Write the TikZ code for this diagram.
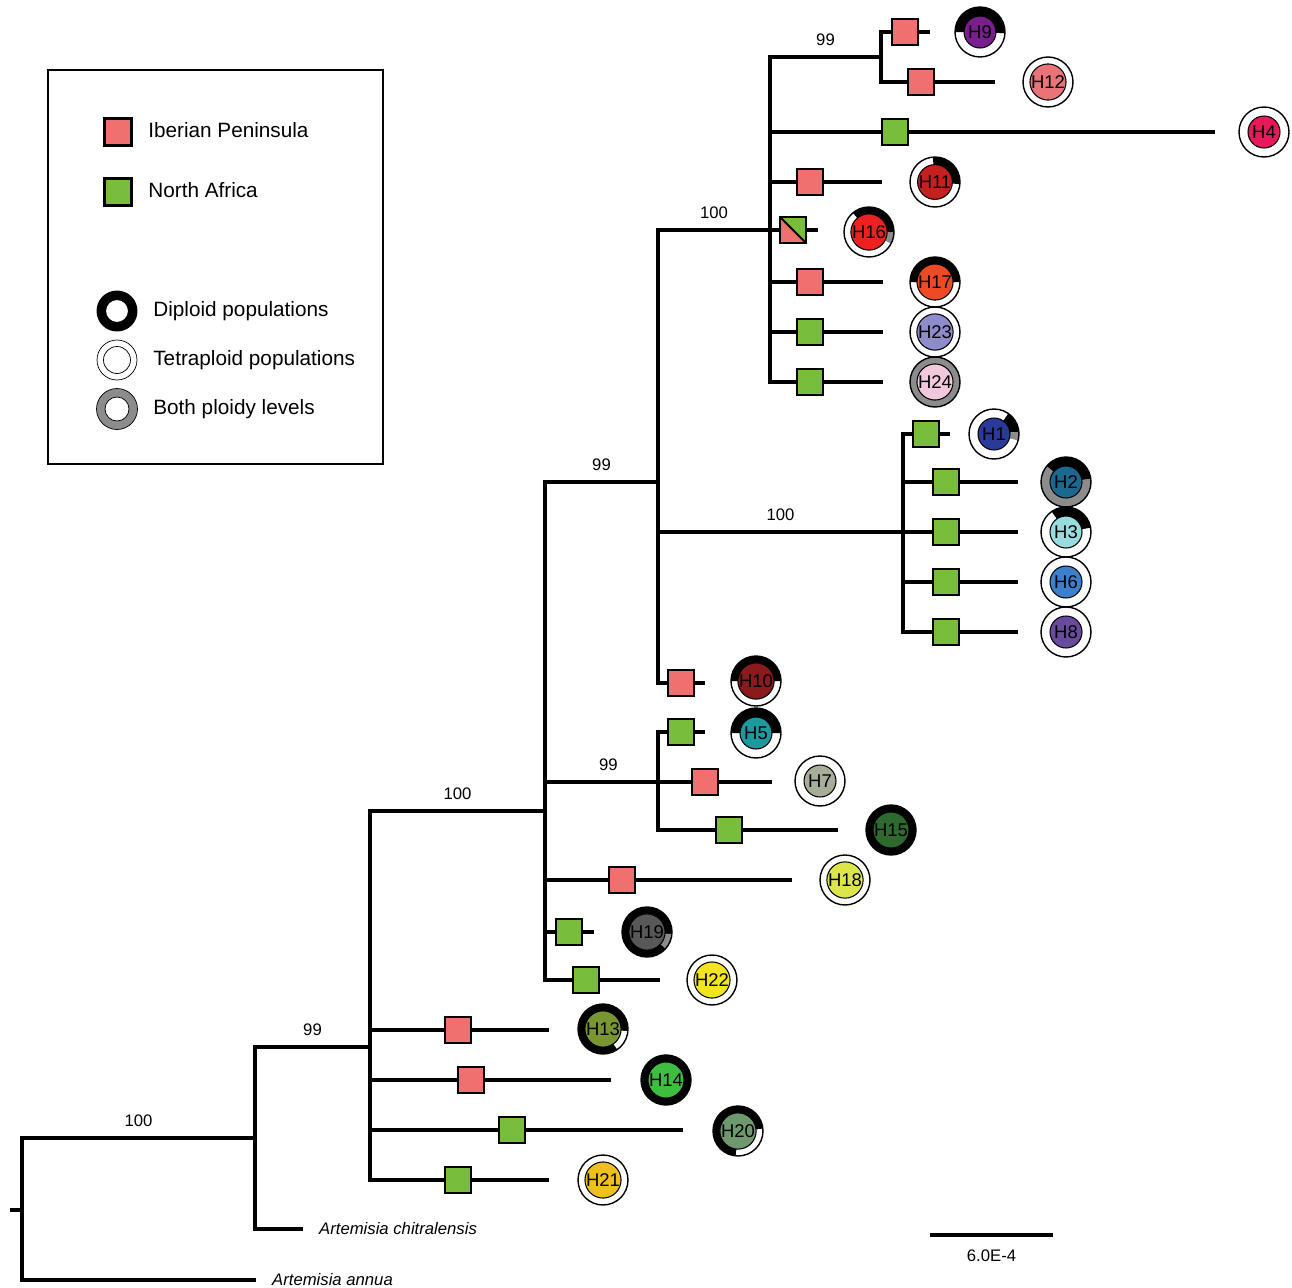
\documentclass[tikz,border=0pt]{standalone}
\usepackage{fontspec}
\setmainfont{Liberation Sans}

\definecolor{iberpink}{HTML}{F07070}
\definecolor{afrgreen}{HTML}{78BE3C}
\definecolor{ringgray}{HTML}{8C8C8C}
\definecolor{hap1}{HTML}{2A3A9A}
\definecolor{hap2}{HTML}{1B6890}
\definecolor{hap3}{HTML}{98DCE0}
\definecolor{hap4}{HTML}{E8195A}
\definecolor{hap5}{HTML}{1C9A9E}
\definecolor{hap6}{HTML}{3A80CC}
\definecolor{hap7}{HTML}{A6AE9A}
\definecolor{hap8}{HTML}{6A4A9C}
\definecolor{hap9}{HTML}{7A1E8E}
\definecolor{hap10}{HTML}{8A1A1C}
\definecolor{hap11}{HTML}{C4201E}
\definecolor{hap12}{HTML}{E87478}
\definecolor{hap13}{HTML}{7A9630}
\definecolor{hap14}{HTML}{3EBE3E}
\definecolor{hap15}{HTML}{2E6A2E}
\definecolor{hap16}{HTML}{EE2020}
\definecolor{hap17}{HTML}{EE4A24}
\definecolor{hap18}{HTML}{DCE64A}
\definecolor{hap19}{HTML}{585858}
\definecolor{hap20}{HTML}{6E986E}
\definecolor{hap21}{HTML}{EEC01E}
\definecolor{hap22}{HTML}{F2E41E}
\definecolor{hap23}{HTML}{8E8CCA}
\definecolor{hap24}{HTML}{F2C8DE}

% ploidy ring round a haplotype disk: centre, disk colour, label, ring sectors
\newcommand{\hapring}[4]{%
  \fill[white] (#1) circle (0.5cm);
  \foreach \sa/\sb/\sc in {#4}
    \fill[\sc] (#1) -- ++(\sa:0.5cm) arc[start angle=\sa, end angle=\sb, radius=0.5cm] -- cycle;
  \draw[line width=0.8pt] (#1) circle (0.5cm);
  \node[hapdisk, fill=#2] (#3) at (#1) {#3};}

\begin{document}
\begin{tikzpicture}[x=0.02cm,y=-0.02cm,
    branch/.style={line width=2pt},
    iberia/.style={draw, line width=1.6pt, fill=iberpink, minimum size=0.52cm, inner sep=0pt},
    nafrica/.style={iberia, fill=afrgreen},
    hapdisk/.style={circle, draw, line width=0.6pt, minimum size=0.64cm, inner sep=0pt, font=\fontsize{10.5}{11}\selectfont},
    boot/.style={above=2pt, font=\fontsize{9.5}{10}\selectfont},
    species/.style={right=0.2cm, font=\fontsize{9.5}{10}\selectfont\itshape},
    legtext/.style={anchor=west, inner sep=0pt, text height=1.5ex, text depth=0.25ex, font=\fontsize{11.8}{13}\selectfont}]
  \useasboundingbox (0,0) rectangle (1292,1288);

  % inner nodes of the tree
  \coordinate (stub) at (10,1210);
  \coordinate (root) at (22,1210);
  \coordinate (n1) at (255,1138);
  \coordinate (n2) at (370,1047);
  \coordinate (n3) at (545,811);
  \coordinate (n4) at (658,482);
  \coordinate (n5) at (770,230);
  \coordinate (n6) at (881,57);
  \coordinate (n7) at (903,532);
  \coordinate (n8) at (658,782);
  % branch tips
  \coordinate (tAnnua) at (256,1280);
  \coordinate (tChit) at (303,1229);
  \foreach \h/\x/\y in {9/930/32, 12/995/82, 4/1215/132, 11/882/182, 16/818/230,
      17/883/282, 23/883/332, 24/883/382, 1/950/434, 2/1018/482, 3/1018/532,
      6/1018/582, 8/1018/632, 10/705/683, 5/705/732, 7/772/782, 15/838/830,
      18/792/880, 19/594/932, 22/660/980, 13/549/1030, 14/611/1080, 20/683/1130,
      21/549/1180}
    \coordinate (t\h) at (\x,\y);

  % branches with bootstrap values
  \draw[branch] (stub) -- (root);
  \draw[branch] (root) |- node[boot, pos=0.75] {100} (n1);
  \draw[branch] (n1) |- node[boot, pos=0.75] {99} (n2);
  \draw[branch] (n2) |- node[boot, pos=0.75] {100} (n3);
  \draw[branch] (n3) |- node[boot, pos=0.75] {99} (n4);
  \draw[branch] (n4) |- node[boot, pos=0.75] {100} (n5);
  \draw[branch] (n5) |- node[boot, pos=0.75] {99} (n6);
  \draw[branch] (n4) |- node[boot, pos=0.75] {100} (n7);
  \draw[branch] (n3) |- node[boot, pos=0.78] {99} (n8);
  \foreach \p/\c in {root/tAnnua, n1/tChit, n6/t9, n6/t12, n5/t4, n5/t11, n5/t16,
      n5/t17, n5/t23, n5/t24, n7/t1, n7/t2, n7/t3, n7/t6, n7/t8, n4/t10, n8/t5,
      n8/t7, n8/t15, n3/t18, n3/t19, n3/t22, n2/t13, n2/t14, n2/t20, n2/t21}
    \draw[branch] (\p) |- (\c);

  \node[species] (annua) at (tAnnua) {Artemisia annua};
  \node[species] (chit) at (tChit) {Artemisia chitralensis};

  % geographic origin
  \foreach \h/\x in {9/905, 12/921, 11/810, 17/810, 10/681, 7/705, 18/622, 13/458, 14/471}
    \node[iberia] (s\h) at (\x,0 |- t\h) {};
  \foreach \h/\x in {4/895, 23/810, 24/810, 1/926, 2/946, 3/946, 6/946, 8/946,
      5/681, 15/729, 19/569, 22/586, 20/512, 21/458}
    \node[nafrica] (s\h) at (\x,0 |- t\h) {};
  \node[iberia, path picture={
      \fill[afrgreen] (path picture bounding box.north west) -- (path picture bounding box.north east)
        -- (path picture bounding box.south east) -- cycle;
      \draw[line width=1.2pt] (path picture bounding box.north west) -- (path picture bounding box.south east);}]
    (s16) at (793,0 |- t16) {};

  % haplotypes and ploidy
  \hapring{980,32}{hap9}{H9}{-3/180/black}
  \hapring{1048,82}{hap12}{H12}{0/360/white}
  \hapring{1264,132}{hap4}{H4}{0/360/white}
  \hapring{935,182}{hap11}{H11}{-5/95/black}
  \hapring{869,232}{hap16}{H16}{0/130/black, -28/0/ringgray}
  \hapring{935,282}{hap17}{H17}{0/180/black}
  \hapring{935,332}{hap23}{H23}{0/360/white}
  \hapring{935,382}{hap24}{H24}{0/360/ringgray}
  \hapring{994,434}{hap1}{H1}{5/55/black, -15/5/ringgray}
  \hapring{1066,482}{hap2}{H2}{0/360/ringgray, 8/140/black}
  \hapring{1066,532}{hap3}{H3}{10/125/black}
  \hapring{1066,582}{hap6}{H6}{0/360/white}
  \hapring{1066,632}{hap8}{H8}{0/360/white}
  \hapring{756,681}{hap10}{H10}{0/180/black}
  \hapring{756,733}{hap5}{H5}{0/180/black}
  \hapring{820,781}{hap7}{H7}{0/360/white}
  \hapring{891,830}{hap15}{H15}{0/360/black}
  \hapring{845,880}{hap18}{H18}{0/360/white}
  \hapring{647,932}{hap19}{H19}{0/360/black, -42/-5/ringgray}
  \hapring{712,980}{hap22}{H22}{0/360/white}
  \hapring{603,1029}{hap13}{H13}{0/360/black, -55/-5/white}
  \hapring{666,1080}{hap14}{H14}{0/360/black}
  \hapring{738,1131}{hap20}{H20}{0/360/black, -95/5/white}
  \hapring{603,1180}{hap21}{H21}{0/360/white}

  % scale bar
  \coordinate (sbl) at (930,1235);
  \coordinate (sbr) at (1053,1235);
  \draw[branch] (sbl) -- node[below=4pt, font=\fontsize{9.5}{10}\selectfont] (sblabel) {6.0E-4} (sbr);

  % legend
  \draw[line width=0.8pt] (48,70) rectangle (383,464);
  \node[iberia, minimum size=0.54cm] (legib) at (118,132) {};
  \node[legtext] (legibtext) at (148,132) {Iberian Peninsula};
  \node[nafrica, minimum size=0.54cm] (legna) at (118,192) {};
  \node[legtext] (legnatext) at (148,192) {North Africa};
  \fill[even odd rule] (117,311) circle (0.41cm) circle (0.22cm);
  \node[legtext] (legdip) at (153,311) {Diploid populations};
  \draw[thin] (117,360) circle (0.4cm) circle (0.27cm);
  \node[legtext] (legtet) at (153,360) {Tetraploid populations};
  \fill[ringgray, even odd rule] (117,409) circle (0.41cm) circle (0.24cm);
  \draw[thin] (117,409) circle (0.41cm) circle (0.24cm);
  \node[legtext] (legboth) at (153,409) {Both ploidy levels};
\end{tikzpicture}
\end{document}
